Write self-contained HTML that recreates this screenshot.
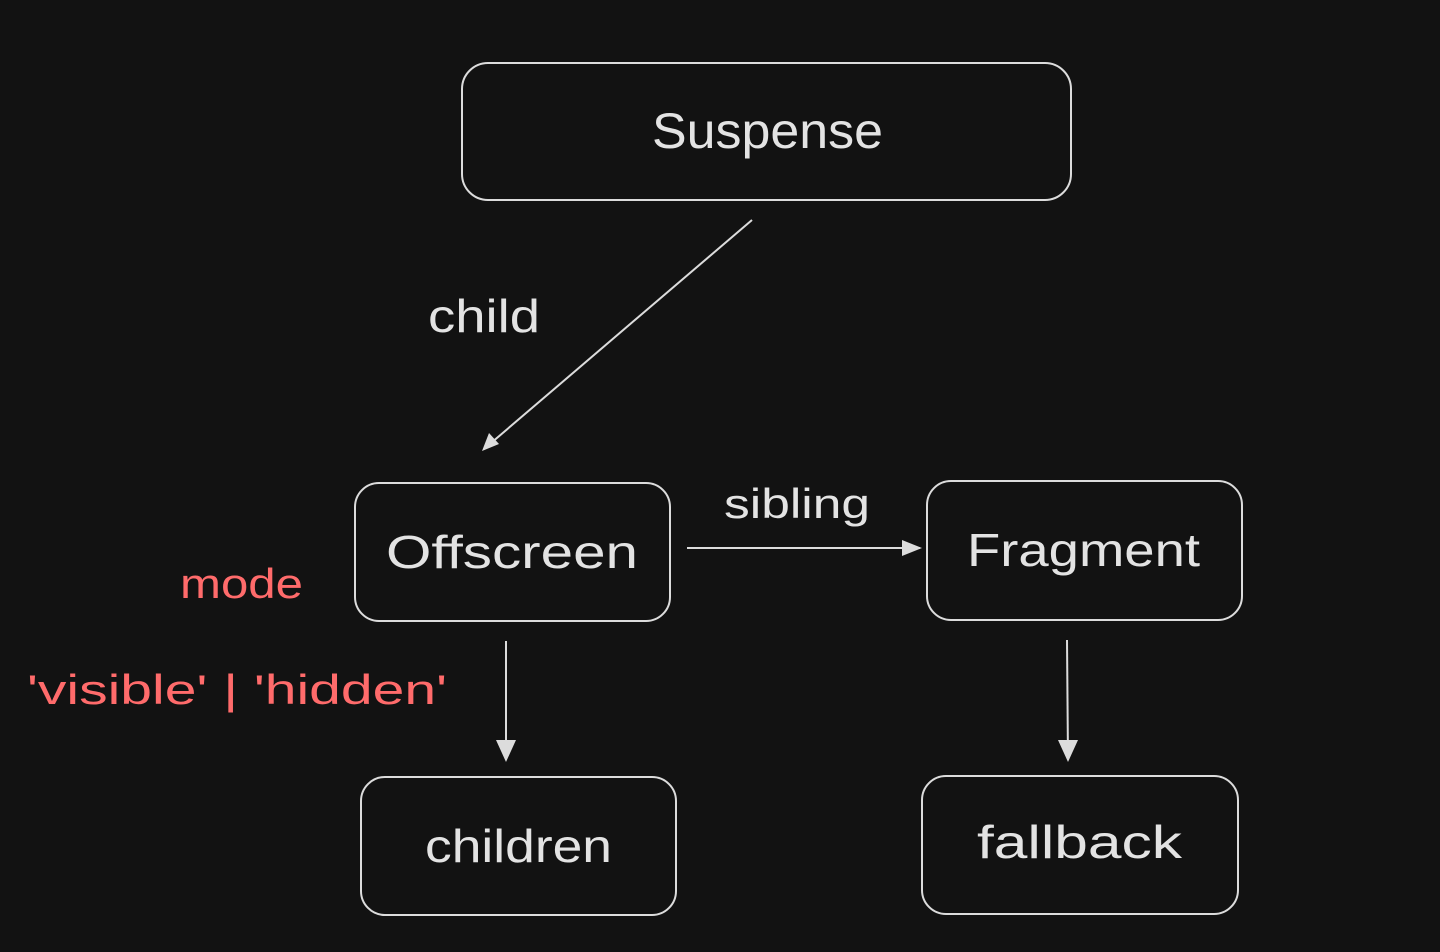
<!DOCTYPE html>
<html><head><meta charset="utf-8"><style>
html,body{margin:0;padding:0;background:#121212;}
svg{display:block}
text{font-family:"Liberation Sans",sans-serif;fill:#e3e3e3;}
</style></head><body>
<svg width="1440" height="952" viewBox="0 0 1440 952" xmlns="http://www.w3.org/2000/svg">
<rect width="1440" height="952" fill="#121212"/>
<g fill="none" stroke="#dcdcdc" stroke-width="2">
<rect x="462" y="63" width="609" height="137" rx="26"/>
<rect x="355" y="483" width="315" height="138" rx="24"/>
<rect x="927" y="481" width="315" height="139" rx="24"/>
<rect x="361" y="777" width="315" height="138" rx="24"/>
<rect x="922" y="776" width="316" height="138" rx="24"/>
<line x1="752" y1="220" x2="484" y2="449"/>
<line x1="687" y1="548" x2="920" y2="548"/>
<line x1="506" y1="641" x2="506" y2="760"/>
<line x1="1067" y1="640" x2="1068" y2="760"/>
</g>
<g fill="#dcdcdc">
<polygon points="482,451 489,433 499,444"/>
<polygon points="922,548 902,540 902,556"/>
<polygon points="506,762 496,740 516,740"/>
<polygon points="1068,762 1058,740 1078,740"/>
</g>
<text x="652" y="148" font-size="50" textLength="231" lengthAdjust="spacingAndGlyphs">Suspense</text>
<text x="386" y="568" font-size="46" textLength="252" lengthAdjust="spacingAndGlyphs">Offscreen</text>
<text x="967" y="566" font-size="46" textLength="233" lengthAdjust="spacingAndGlyphs">Fragment</text>
<text x="425" y="862" font-size="46" textLength="187" lengthAdjust="spacingAndGlyphs">children</text>
<text x="977" y="858" font-size="46" textLength="205" lengthAdjust="spacingAndGlyphs">fallback</text>
<text x="428" y="332" font-size="46" textLength="112" lengthAdjust="spacingAndGlyphs">child</text>
<text x="724" y="518" font-size="42" textLength="146" lengthAdjust="spacingAndGlyphs">sibling</text>
<text x="180" y="598" font-size="42" textLength="123" lengthAdjust="spacingAndGlyphs" style="fill:#ff6b6b">mode</text>
<text x="27" y="704" font-size="42" textLength="420" lengthAdjust="spacingAndGlyphs" style="fill:#ff6b6b">'visible' | 'hidden'</text>
</svg>
</body></html>
